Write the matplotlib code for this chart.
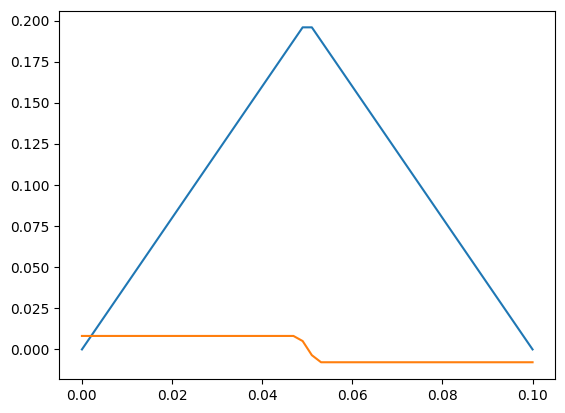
import matplotlib
matplotlib.use("Agg")
import matplotlib.pyplot as plt

# triangle wave (blue) at its corners
tri_x = [0.0, 0.04898, 0.05102, 0.1]
tri_y = [0.0, 0.1959, 0.1959, 0.0]

# step-like curve (orange)
step_x = [0.0, 0.04694, 0.04898, 0.05102, 0.05306, 0.1]
step_y = [0.0082, 0.0082, 0.0051, -0.0035, -0.0078, -0.0078]

fig = plt.figure(figsize=(5.65, 4.13), dpi=100)
ax = fig.add_axes([59.4 / 565, 34 / 413, 495.7 / 565, 368.4 / 413])

ax.plot(tri_x, tri_y)
ax.plot(step_x, step_y)

fig.savefig("out.png")
